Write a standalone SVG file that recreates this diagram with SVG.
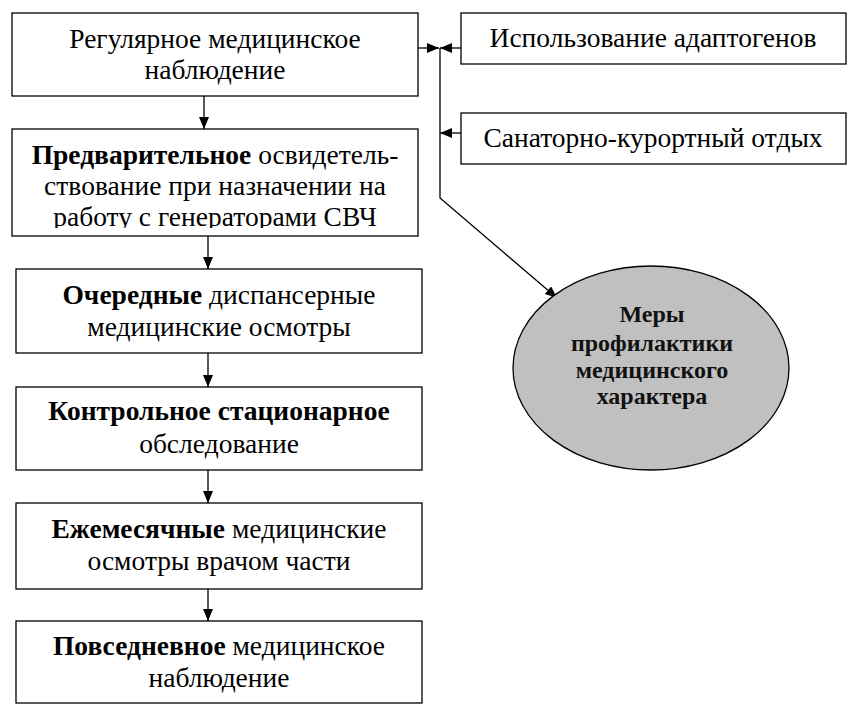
<svg xmlns="http://www.w3.org/2000/svg" width="850" height="706" viewBox="0 0 850 706">
<defs>
<style>
.box{fill:#fff;stroke:#000;stroke-width:1.3}
.t{font-family:"Liberation Serif","Times New Roman",serif;font-size:27.5px;fill:#000;text-anchor:middle}
.b{font-weight:bold}
.e{font-family:"Liberation Serif","Times New Roman",serif;font-size:24px;font-weight:bold;fill:#111;text-anchor:middle}
.ln{fill:none;stroke:#000;stroke-width:1.3}
</style>
<marker id="ah" viewBox="0 0 12 10" refX="12" refY="5" markerWidth="12" markerHeight="10" markerUnits="userSpaceOnUse" orient="auto">
<path d="M0,0 L12,5 L0,10 z" fill="#000"/>
</marker>
<clipPath id="c2"><rect x="12" y="129" width="406" height="99"/></clipPath>
</defs>
<rect width="850" height="706" fill="#fff"/>
<g id="connectors">
<line class="ln" x1="204" y1="96" x2="204" y2="129" marker-end="url(#ah)"/>
<line class="ln" x1="208" y1="236" x2="208" y2="269" marker-end="url(#ah)"/>
<line class="ln" x1="208" y1="353" x2="208" y2="387" marker-end="url(#ah)"/>
<line class="ln" x1="208" y1="470" x2="208" y2="503" marker-end="url(#ah)"/>
<line class="ln" x1="208" y1="589" x2="208" y2="621" marker-end="url(#ah)"/>
<line class="ln" x1="418" y1="48" x2="439" y2="48" marker-end="url(#ah)"/>
<line class="ln" x1="461" y1="48" x2="440" y2="48" marker-end="url(#ah)"/>
<line class="ln" x1="461" y1="133" x2="440" y2="133" marker-end="url(#ah)"/>
<polyline class="ln" points="440,48 440,198 557,298" marker-end="url(#ah)"/>
</g>
<g id="n1">
<rect class="box" x="12" y="13" width="406" height="83"/>
<text class="t" x="215" y="48">Регулярное медицинское</text>
<text class="t" x="215" y="79">наблюдение</text>
</g>
<g id="n2">
<rect class="box" x="12" y="129" width="406" height="107"/>
<g clip-path="url(#c2)">
<text class="t" x="215" y="164"><tspan class="b">Предварительное</tspan> освидетель-</text>
<text class="t" x="215" y="195">ствование при назначении на</text>
<text class="t" x="215" y="226">работу с генераторами СВЧ</text>
</g>
</g>
<g id="n3">
<rect class="box" x="16" y="269" width="406" height="84"/>
<text class="t" x="219" y="304"><tspan class="b">Очередные</tspan> диспансерные</text>
<text class="t" x="219" y="336">медицинские осмотры</text>
</g>
<g id="n4">
<rect class="box" x="16" y="387" width="406" height="83"/>
<text class="t b" x="219" y="420">Контрольное стационарное</text>
<text class="t" x="219" y="453">обследование</text>
</g>
<g id="n5">
<rect class="box" x="16" y="503" width="406" height="86"/>
<text class="t" x="219" y="538"><tspan class="b">Ежемесячные</tspan> медицинские</text>
<text class="t" x="219" y="570">осмотры врачом части</text>
</g>
<g id="n6">
<rect class="box" x="16" y="621" width="406" height="82"/>
<text class="t" x="219" y="655"><tspan class="b">Повседневное</tspan> медицинское</text>
<text class="t" x="219" y="687">наблюдение</text>
</g>
<g id="r1">
<rect class="box" x="461" y="13" width="385" height="51"/>
<text class="t" x="653" y="47">Использование адаптогенов</text>
</g>
<g id="r2">
<rect class="box" x="461" y="113" width="385" height="51"/>
<text class="t" x="653" y="147">Санаторно-курортный отдых</text>
</g>
<g id="goal">
<ellipse cx="651" cy="368" rx="138" ry="102" fill="#c0c0c0" stroke="#000" stroke-width="1.3"/>
<text class="e" x="652" y="322">Меры</text>
<text class="e" x="652" y="351">профилактики</text>
<text class="e" x="652" y="378">медицинского</text>
<text class="e" x="652" y="404">характера</text>
</g>
</svg>
